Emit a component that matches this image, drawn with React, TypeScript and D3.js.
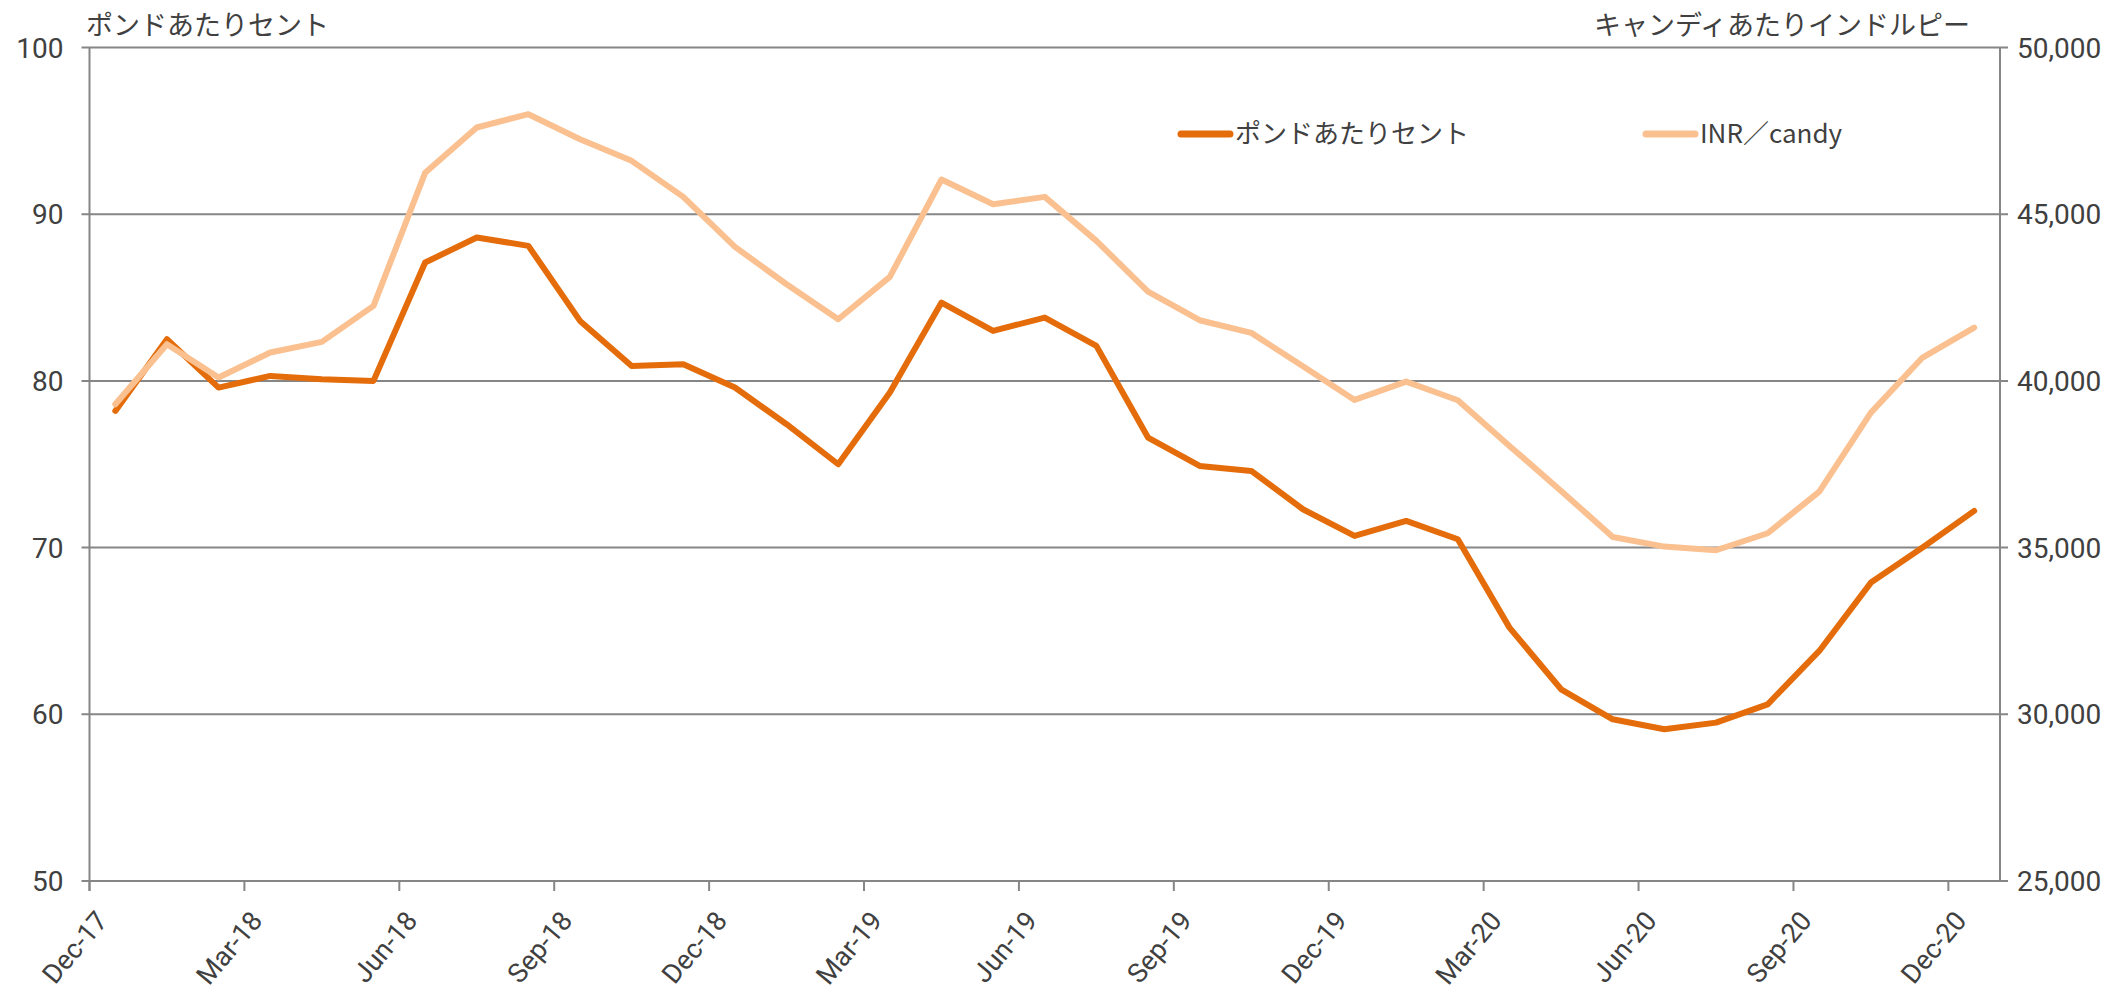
import React, { useEffect, useRef } from 'react';
import * as d3 from 'd3';

const months = [
  'Dec-17', 'Jan-18', 'Feb-18', 'Mar-18', 'Apr-18', 'May-18', 'Jun-18', 'Jul-18', 'Aug-18', 'Sep-18', 'Oct-18', 'Nov-18',
  'Dec-18', 'Jan-19', 'Feb-19', 'Mar-19', 'Apr-19', 'May-19', 'Jun-19', 'Jul-19', 'Aug-19', 'Sep-19', 'Oct-19', 'Nov-19',
  'Dec-19', 'Jan-20', 'Feb-20', 'Mar-20', 'Apr-20', 'May-20', 'Jun-20', 'Jul-20', 'Aug-20', 'Sep-20', 'Oct-20', 'Nov-20',
  'Dec-20',
];

// ポンドあたりセント (left axis)
const centsPerPound = [
  78.2, 82.5, 79.6, 80.3, 80.1, 80.0, 87.1, 88.6, 88.1, 83.6, 80.9, 81.0,
  79.6, 77.4, 75.0, 79.3, 84.7, 83.0, 83.8, 82.1, 76.6, 74.9, 74.6, 72.3,
  70.7, 71.6, 70.5, 65.2, 61.5, 59.7, 59.1, 59.5, 60.6, 63.8, 67.9, 70.0,
  72.2,
];

// INR/candy (right axis)
const inrPerCandy = [
  39300, 41100, 40100, 40850, 41170, 42250, 46240, 47600, 48000, 47250, 46600, 45520,
  44020, 42900, 41850, 43120, 46040, 45300, 45520, 44200, 42680, 41820, 41440, 40440,
  39430, 39980, 39420, 38050, 36700, 35320, 35030, 34920, 35430, 36680, 39050, 40700,
  41600,
];

const leftTicks = [50, 60, 70, 80, 90, 100];
const rightTicks = [25000, 30000, 35000, 40000, 45000, 50000];

const leftTitle = 'ポンドあたりセント';
const rightTitle = 'キャンディあたりインドルピー';
const seriesNames = ['ポンドあたりセント', 'INR／candy'];

const App: React.FC = () => {
  const svgRef = useRef<SVGSVGElement>(null);

  useEffect(() => {
    if (!svgRef.current) return;

    const width = 2126;
    const height = 1002;
    const margin = { top: 47.5, right: 126, bottom: 121, left: 89.5 };
    const grey = '#868686';
    const textColor = '#404040';
    const dark = '#E46C0A';
    const light = '#FAC090';
    const numFont = "Roboto, 'Noto Sans CJK JP', sans-serif";
    const jpFont = "'Noto Sans CJK JP', sans-serif";

    const svg = d3.select(svgRef.current);
    svg.selectAll('*').remove();
    svg.attr('width', width).attr('height', height);

    const x = d3.scaleBand<string>()
      .domain(months)
      .range([margin.left, width - margin.right]);

    const yL = d3.scaleLinear().domain([50, 100]).range([height - margin.bottom, margin.top]);
    const yR = d3.scaleLinear().domain([25000, 50000]).range([height - margin.bottom, margin.top]);

    const left = margin.left;
    const right = width - margin.right;
    const bottom = height - margin.bottom;

    // gridlines
    svg.append('g')
      .selectAll('line')
      .data(leftTicks)
      .join('line')
      .attr('x1', left - 8)
      .attr('x2', right + 8)
      .attr('y1', d => yL(d))
      .attr('y2', d => yL(d))
      .attr('stroke', grey)
      .attr('stroke-width', 2);

    // axis lines
    svg.append('line')
      .attr('x1', left).attr('x2', left)
      .attr('y1', margin.top).attr('y2', bottom + 10)
      .attr('stroke', grey).attr('stroke-width', 2);
    svg.append('line')
      .attr('x1', right).attr('x2', right)
      .attr('y1', margin.top).attr('y2', bottom)
      .attr('stroke', grey).attr('stroke-width', 2);

    // left tick labels
    svg.append('g')
      .selectAll('text')
      .data(leftTicks)
      .join('text')
      .attr('x', left - 26)
      .attr('y', d => yL(d))
      .attr('dy', '0.36em')
      .attr('text-anchor', 'end')
      .attr('font-family', numFont)
      .attr('font-size', 28)
      .attr('fill', textColor)
      .text(d => d3.format('d')(d));

    // right tick labels
    svg.append('g')
      .selectAll('text')
      .data(rightTicks)
      .join('text')
      .attr('x', right + 17)
      .attr('y', d => yR(d))
      .attr('dy', '0.36em')
      .attr('text-anchor', 'start')
      .attr('font-family', numFont)
      .attr('font-size', 28)
      .attr('fill', textColor)
      .text(d => d3.format(',')(d));

    // x ticks every 3 months, at category boundaries
    const xTicks = months.filter((_, i) => i % 3 === 0);
    svg.append('g')
      .selectAll('line')
      .data(xTicks)
      .join('line')
      .attr('x1', d => x(d)!)
      .attr('x2', d => x(d)!)
      .attr('y1', bottom)
      .attr('y2', bottom + 10)
      .attr('stroke', grey)
      .attr('stroke-width', 2);

    svg.append('g')
      .selectAll('text')
      .data(xTicks)
      .join('text')
      .attr('transform', d => `translate(${x(d)! + 12},${bottom + 34}) rotate(-50)`)
      .attr('dy', '0.36em')
      .attr('text-anchor', 'end')
      .attr('font-family', numFont)
      .attr('font-size', 27)
      .attr('fill', textColor)
      .text(d => d);

    // lines
    const cx = (i: number) => x(months[i])! + x.bandwidth() / 2;

    const lineR = d3.line<number>()
      .x((_, i) => cx(i))
      .y(d => yR(d));
    const lineL = d3.line<number>()
      .x((_, i) => cx(i))
      .y(d => yL(d));

    svg.append('path')
      .datum(centsPerPound)
      .attr('d', lineL)
      .attr('fill', 'none')
      .attr('stroke', dark)
      .attr('stroke-width', 6)
      .attr('stroke-linejoin', 'round')
      .attr('stroke-linecap', 'round');

    svg.append('path')
      .datum(inrPerCandy)
      .attr('d', lineR)
      .attr('fill', 'none')
      .attr('stroke', light)
      .attr('stroke-width', 6)
      .attr('stroke-linejoin', 'round')
      .attr('stroke-linecap', 'round');

    // axis titles
    svg.append('text')
      .attr('x', 86)
      .attr('y', 35)
      .attr('font-family', jpFont)
      .attr('font-size', 27)
      .attr('fill', textColor)
      .text(leftTitle);

    svg.append('text')
      .attr('x', 1970)
      .attr('y', 35)
      .attr('text-anchor', 'end')
      .attr('font-family', jpFont)
      .attr('font-size', 27)
      .attr('fill', textColor)
      .text(rightTitle);

    // legend
    const legendItems = [
      { name: seriesNames[0], color: dark, x0: 1181 },
      { name: seriesNames[1], color: light, x0: 1646 },
    ];
    const lg = svg.append('g');
    legendItems.forEach(item => {
      lg.append('line')
        .attr('x1', item.x0)
        .attr('x2', item.x0 + 49)
        .attr('y1', 134)
        .attr('y2', 134)
        .attr('stroke', item.color)
        .attr('stroke-width', 7)
        .attr('stroke-linecap', 'round');
      lg.append('text')
        .attr('x', item.x0 + 54)
        .attr('y', 134)
        .attr('dy', '0.36em')
        .attr('font-family', jpFont)
        .attr('font-size', 26)
        .attr('fill', textColor)
        .text(item.name);
    });
  }, []);

  return (
    <div style={{ position: 'fixed', left: 0, top: 0, background: '#fff' }}>
      <svg ref={svgRef} style={{ display: 'block' }} />
    </div>
  );
};

export default App;
